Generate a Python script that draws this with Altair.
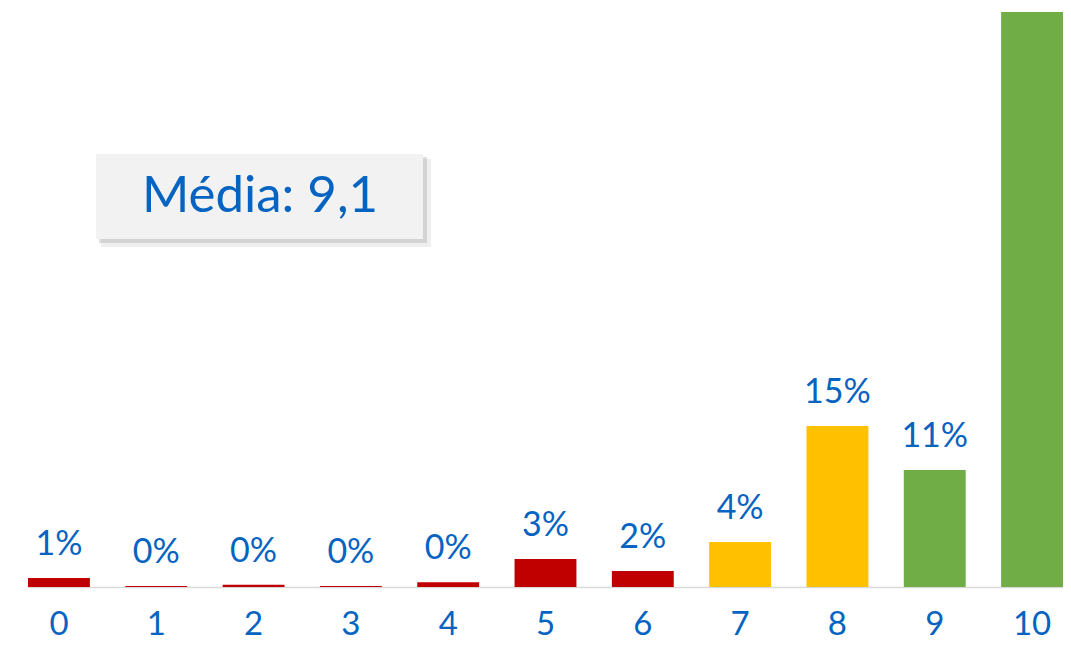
import altair as alt
import pandas as pd

scores = ["0", "1", "2", "3", "4", "5", "6", "7", "8", "9", "10"]
pct = [0.84, 0.1, 0.2, 0.1, 0.44, 2.6, 1.5, 4.2, 15.0, 10.9, 64.1]
colors = ["#C00000", "#C00000", "#C00000", "#C00000", "#C00000", "#C00000",
          "#C00000", "#FFC000", "#FFC000", "#70AD47", "#70AD47"]
media_label = ["Média: 9,1"]
y_max = 53.6

BLUE = "#0563C1"
FONT = "Lato"

df = pd.DataFrame({"score": scores, "pct": pct, "color": colors})

xscale = alt.Scale(range=[18, 1053], paddingInner=0.364, paddingOuter=0, round=False)
yscale = alt.Scale(domain=[0, y_max], nice=False, zero=True)

base = alt.Chart(df).encode(
    x=alt.X("score:N", sort=scores, scale=xscale,
            axis=alt.Axis(title=None, labelAngle=0, ticks=False, tickSize=0,
                          labelFontSize=33, labelColor=BLUE, labelFont=FONT,
                          labelBaseline="middle", labelPadding=37,
                          domainColor="#D9D9D9", domainWidth=1.5, grid=False)),
    y=alt.Y("pct:Q", scale=yscale, axis=None),
)

bars = base.mark_bar(clip=True).encode(color=alt.Color("color:N", scale=None))

labels = base.transform_filter(
    f"datum.pct <= {y_max}"
).transform_calculate(
    lbl="format(datum.pct, '.0f') + '%'"
).mark_text(dy=-33, baseline="middle", fontSize=34,
            font=FONT, color=BLUE).encode(text="lbl:N")

mdf = pd.DataFrame({"t": media_label})
shadow2 = alt.Chart(mdf).mark_rect(color="#7f7f7f", opacity=0.12).encode(
    x=alt.value(91), x2=alt.value(421), y=alt.value(147), y2=alt.value(235))
shadow1 = alt.Chart(mdf).mark_rect(color="#7f7f7f", opacity=0.25).encode(
    x=alt.value(89), x2=alt.value(417), y=alt.value(145), y2=alt.value(231))
box = alt.Chart(mdf).mark_rect(color="#F2F2F2").encode(
    x=alt.value(86), x2=alt.value(413), y=alt.value(142), y2=alt.value(227))
btxt = alt.Chart(mdf).mark_text(fontSize=51, font=FONT, color=BLUE,
                                baseline="middle", align="center").encode(
    text="t:N", x=alt.value(250), y=alt.value(185))

chart = alt.layer(bars, labels, shadow2, shadow1, box, btxt).properties(
    width=1053, height=575,
    autosize=alt.AutoSizeParams(type="none"),
    padding={"left": 2, "top": 4, "right": 0, "bottom": 54},
).configure_view(stroke=None)

chart.save("out.html", embed_options={"renderer": "svg", "actions": False})
